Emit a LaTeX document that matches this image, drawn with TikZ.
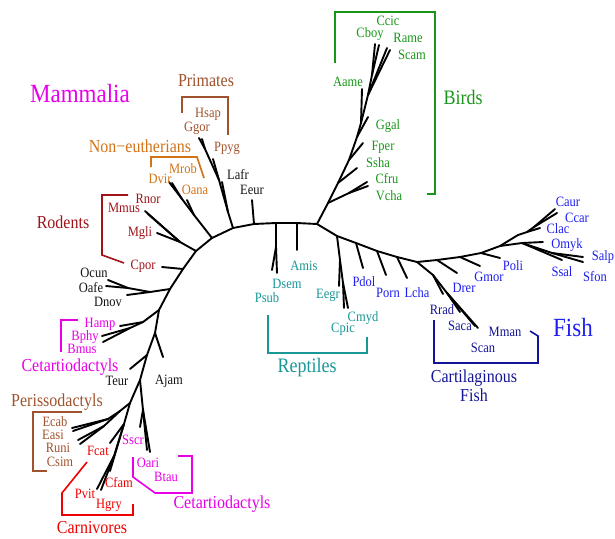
\documentclass[tikz,border=0pt]{standalone}
\usepackage{fontspec}
\setmainfont{Liberation Serif}
\usepackage{graphicx}
\definecolor{cmag}{RGB}{232,0,232}
\definecolor{csienna}{RGB}{160,82,45}
\definecolor{corange}{RGB}{210,115,25}
\definecolor{cdred}{RGB}{160,20,25}
\definecolor{cgreen}{RGB}{25,150,25}
\definecolor{cteal}{RGB}{25,150,150}
\definecolor{cblue}{RGB}{30,30,240}
\definecolor{cnavy}{RGB}{20,20,150}
\definecolor{cred}{RGB}{240,0,0}
\definecolor{cblack}{RGB}{20,20,20}
\newcommand{\tx}[1]{\scalebox{1}[1.14]{#1}}
\begin{document}
\begin{tikzpicture}[x=1pt,y=-1pt,
  tree/.style={line width=1.9pt, line cap=round, line join=round, black},
  brk/.style={line width=1.6pt, line join=miter},
  lab/.style={font=\fontsize{12.5}{14}\selectfont, inner sep=0pt},
  grp/.style={font=\fontsize{16}{18}\selectfont, inner sep=0pt},
  big/.style={font=\fontsize{23}{26}\selectfont, inner sep=0pt}]
\useasboundingbox (0,0) rectangle (615,538);
% ---------- backbone ----------
\coordinate (b1) at (130,403);
\coordinate (b2) at (140,380);
\coordinate (b3) at (147,355);
\coordinate (b4) at (155,333);
\coordinate (b5) at (159,310);
\coordinate (b6) at (170,289);
\coordinate (b7) at (183,269);
\coordinate (b8) at (196,251);
\coordinate (b9) at (212,238);
\coordinate (b10) at (233,228);
\coordinate (b11) at (254,224);
\coordinate (b12) at (276,223);
\coordinate (b13) at (297,223);
\coordinate (b14) at (317,224);
\coordinate (f1) at (337,236);
\coordinate (f2) at (356,243);
\coordinate (f3) at (377,251);
\coordinate (f4) at (397,257);
\coordinate (f5) at (417,262);
\coordinate (f6) at (437,260);
\coordinate (f7) at (460,257);
\coordinate (f8) at (481,253);
\coordinate (f9) at (500,246);
\draw[tree] (b1)--(b2)--(b3)--(b4)--(b5)--(b6)--(b7)--(b8)--(b9)--(b10)--(b11)--(b12)--(b13)--(b14)
  --(f1)--(f2)--(f3)--(f4)--(f5)--(f6)--(f7)--(f8)--(f9);
% ---------- mammals ----------
\coordinate (tTeur) at (130,369);
\coordinate (tAjam) at (163,357);
\draw[tree] (b3)--(tTeur);
\draw[tree] (b4)--(tAjam);
\coordinate (h1) at (143,322);
\coordinate (h2) at (130,328);
\coordinate (tHamp) at (120,326);
\coordinate (tBphy) at (102,336);
\coordinate (tBmus) at (103,342);
\draw[tree] (b5)--(h1)--(tHamp);
\draw[tree] (h1)--(h2)--(tBphy);
\draw[tree] (h2)--(tBmus);
\coordinate (o1) at (150,292);
\coordinate (o2) at (128,288);
\coordinate (tOcun) at (108,280);
\coordinate (tOafe) at (106,286);
\coordinate (tDnov) at (127,295);
\draw[tree] (b6)--(o1)--(o2)--(tOcun);
\draw[tree] (o2)--(tOafe);
\draw[tree] (o1)--(tDnov);
\coordinate (tCpor) at (162,267);
\draw[tree] (b7)--(tCpor);
\coordinate (r1) at (180,242);
\coordinate (tMgli) at (157,233);
\coordinate (tRnor) at (148,214);
\coordinate (tMmus) at (145,211);
\draw[tree] (b8)--(r1)--(tMgli);
\draw[tree] (r1)--(tRnor);
\draw[tree] (r1)--(tMmus);
\coordinate (n1) at (194,215);
\coordinate (n2) at (182,199);
\coordinate (tOana) at (187,200);
\coordinate (tDvir) at (169,182);
\coordinate (tMrob) at (172,183);
\draw[tree] (b9)--(n1)--(n2)--(tDvir);
\draw[tree] (n2)--(tMrob);
\draw[tree] (n1)--(tOana);
\coordinate (p1) at (228,212);
\coordinate (p2) at (219,180);
\coordinate (p3) at (205,149);
\coordinate (tLafr) at (222,182);
\coordinate (tPpyg) at (213,159);
\coordinate (tGgor) at (199,138);
\coordinate (tHsap) at (202,139);
\draw[tree] (b10)--(p1)--(p2)--(p3)--(tGgor);
\draw[tree] (p3)--(tHsap);
\draw[tree] (p1)--(tLafr);
\draw[tree] (p2)--(tPpyg);
\coordinate (tEeur) at (252,200);
\draw[tree] (b11)--(tEeur);
% lower mammals
\coordinate (s1) at (143,410);
\coordinate (tSscr) at (140,427);
\coordinate (tOari) at (147,450);
\coordinate (tBtau) at (150,452);
\draw[tree] (b2)--(s1)--(tSscr);
\draw[tree] (s1)--(tOari);
\draw[tree] (s1)--(tBtau);
\coordinate (pe0) at (120,411);
\coordinate (pe1) at (108,419);
\coordinate (pe2) at (104,426);
\coordinate (tEcab) at (72,428);
\coordinate (tEasi) at (73,431);
\coordinate (tRuni) at (78,440);
\coordinate (tCsim) at (80,444);
\draw[tree] (b1)--(pe0)--(pe1)--(tEcab);
\draw[tree] (pe1)--(tEasi);
\draw[tree] (pe0)--(pe2)--(tRuni);
\draw[tree] (pe2)--(tCsim);
\coordinate (c1) at (124,424);
\coordinate (c2) at (114,456);
\coordinate (tFcat) at (110,443);
\coordinate (tCfam) at (110,471);
\coordinate (tPvit) at (97,489);
\coordinate (tHgry) at (101,490);
\draw[tree] (b1)--(c1)--(tFcat);
\draw[tree] (c1)--(c2)--(tPvit);
\draw[tree] (c2)--(tHgry);
\draw[tree] (c1)--(tCfam);
% ---------- reptiles ----------
\coordinate (d1) at (276,247);
\coordinate (tPsub) at (272,270);
\coordinate (tDsem) at (277,273);
\coordinate (tAmis) at (297,250);
\draw[tree] (b12)--(d1)--(tPsub);
\draw[tree] (d1)--(tDsem);
\draw[tree] (b13)--(tAmis);
\coordinate (t1) at (340,260);
\coordinate (t2) at (343,283);
\coordinate (tEegr) at (339,286);
\coordinate (tCpic) at (344,308);
\coordinate (tCmyd) at (348,308);
\draw[tree] (f1)--(t1)--(tEegr);
\draw[tree] (t1)--(t2)--(tCpic);
\draw[tree] (t2)--(tCmyd);
% ---------- fish ----------
\coordinate (tPdol) at (363,268);
\coordinate (tPorn) at (386,275);
\coordinate (tLcha) at (407,278);
\draw[tree] (f2)--(tPdol);
\draw[tree] (f3)--(tPorn);
\draw[tree] (f4)--(tLcha);
\coordinate (k1) at (433,275);
\coordinate (k2) at (447,293);
\coordinate (tRrad) at (443,294);
\coordinate (tSaca) at (460,312);
\coordinate (tMman) at (478,328);
\coordinate (tScan) at (475,326);
\draw[tree] (f5)--(k1)--(tRrad);
\draw[tree] (k1)--(k2)--(tSaca);
\draw[tree] (k2)--(tMman);
\draw[tree] (k2)--(tScan);
\coordinate (tDrer) at (457,273);
\coordinate (tGmor) at (480,266);
\coordinate (tPoli) at (500,258);
\draw[tree] (f6)--(tDrer);
\draw[tree] (f7)--(tGmor);
\draw[tree] (f8)--(tPoli);
\coordinate (g1) at (518,235);
\coordinate (g2) at (527,232);
\coordinate (g3) at (534,227);
\coordinate (tClac) at (540,228);
\coordinate (tCaur) at (555,209);
\coordinate (tCcar) at (557,213);
\draw[tree] (f9)--(g1)--(g2)--(tClac);
\draw[tree] (g2)--(g3)--(tCaur);
\draw[tree] (g3)--(tCcar);
\coordinate (m1) at (522,243);
\coordinate (m3) at (552,253);
\coordinate (tOmyk) at (543,242);
\coordinate (tSsal) at (562,260);
\coordinate (tSalp) at (583,257);
\coordinate (tSfon) at (583,262);
\draw[tree] (f9)--(m1)--(tOmyk);
\draw[tree] (m1)--(tSsal);
\draw[tree] (m1)--(m3)--(tSalp);
\draw[tree] (m3)--(tSfon);
% ---------- birds ----------
\coordinate (a1) at (328,203);
\coordinate (a2) at (338,183);
\coordinate (a3) at (349,160);
\coordinate (a4) at (357,137);
\coordinate (a5) at (361,123);
\coordinate (a6) at (368,95);
\coordinate (a7) at (372,75);
\coordinate (v1) at (349,193);
\coordinate (tVcha) at (368,186);
\coordinate (tCfru) at (367,182);
\coordinate (tSsha) at (357,168);
\coordinate (tFper) at (363,143);
\coordinate (tGgal) at (368,117);
\coordinate (tAame) at (362,89);
\coordinate (tRame) at (387,48);
\coordinate (tScam) at (390,50);
\coordinate (tCboy) at (375,44);
\coordinate (tCcic) at (379,45);
\draw[tree] (b14)--(a1)--(a2)--(a3)--(a4)--(a5)--(a6)--(a7)--(tCboy);
\draw[tree] (a7)--(tCcic);
\draw[tree] (a6)--(tRame);
\draw[tree] (a6)--(tScam);
\draw[tree] (a5)--(tAame);
\draw[tree] (a4)--(tGgal);
\draw[tree] (a3)--(tFper);
\draw[tree] (a2)--(tSsha);
\draw[tree] (a1)--(v1)--(tVcha);
\draw[tree] (v1)--(tCfru);
% ---------- brackets ----------
\draw[brk, csienna] (182,113)--(182,97)--(228,97)--(228,135);
\draw[brk, corange] (151,167)--(151,157)--(197,157)--(204,178);
\draw[brk, cdred] (128,195)--(102,195)--(102,255)--(124,263);
\draw[brk, cgreen] (335,63)--(335,12)--(435,12)--(435,194)--(427,194);
\draw[brk, cteal] (268,315)--(268,353)--(367,353)--(367,337);
\draw[brk, cnavy] (434,320)--(434,363)--(538,363)--(538,336)--(530,331);
\draw[brk, cmag] (78,320)--(61,320)--(61,352);
\draw[brk, csienna] (82,412)--(33,412)--(33,471)--(47,471);
\draw[brk, cred] (87,462)--(62,493)--(62,515)--(133,515)--(133,504);
\draw[brk, cmag] (133,457)--(133,477)--(155,493)--(192,493)--(192,456)--(178,456);
% ---------- group labels ----------
\node[big, cmag] (gMammalia) at (80,94) {\tx{Mammalia}};
\node[grp, csienna] (gPrimates) at (206,81) {\tx{Primates}};
\node[grp, corange] (gNoneuth) at (140,146) {\tx{Non−eutherians}};
\node[grp, cdred] (gRodents) at (63,222) {\tx{Rodents}};
\node[grp, cgreen, font=\fontsize{18}{20}\selectfont] (gBirds) at (463,97) {\tx{Birds}};
\node[grp, cteal, font=\fontsize{18}{20}\selectfont] (gReptiles) at (307,368) {\tx{Reptiles}};
\node[big, cblue] (gFish) at (573,328) {\tx{Fish}};
\node[grp, cnavy, align=center] (gCart) at (474,386) {\tx{Cartilaginous}\\[1pt]\tx{Fish}};
\node[grp, cmag] (gCetA) at (70,367) {\tx{Cetartiodactyls}};
\node[grp, csienna] (gPeri) at (57,402) {\tx{Perissodactyls}};
\node[grp, cred] (gCarn) at (92,528) {\tx{Carnivores}};
\node[grp, cmag] (gCetB) at (222,504) {\tx{Cetartiodactyls}};
% ---------- leaf labels ----------
\node[lab, csienna] (lHsap) at (208,114) {\tx{Hsap}};
\node[lab, csienna] (lGgor) at (197,128) {\tx{Ggor}};
\node[lab, csienna] (lPpyg) at (227,148) {\tx{Ppyg}};
\node[lab, corange] (lMrob) at (183,169) {\tx{Mrob}};
\node[lab, corange] (lDvir) at (160,179) {\tx{Dvir}};
\node[lab, corange] (lOana) at (195,190) {\tx{Oana}};
\node[lab, cblack] (lLafr) at (238,175) {\tx{Lafr}};
\node[lab, cblack] (lEeur) at (252,190) {\tx{Eeur}};
\node[lab, cdred] (lRnor) at (148,199) {\tx{Rnor}};
\node[lab, cdred] (lMmus) at (124,208) {\tx{Mmus}};
\node[lab, cdred] (lMgli) at (140,233) {\tx{Mgli}};
\node[lab, cdred] (lCpor) at (143,266) {\tx{Cpor}};
\node[lab, cblack] (lOcun) at (94,273) {\tx{Ocun}};
\node[lab, cblack] (lOafe) at (91,288) {\tx{Oafe}};
\node[lab, cblack] (lDnov) at (108,302) {\tx{Dnov}};
\node[lab, cmag] (lHamp) at (100,324) {\tx{Hamp}};
\node[lab, cmag] (lBphy) at (85,337) {\tx{Bphy}};
\node[lab, cmag] (lBmus) at (82,349) {\tx{Bmus}};
\node[lab, cblack] (lTeur) at (117,381) {\tx{Teur}};
\node[lab, cblack] (lAjam) at (169,381) {\tx{Ajam}};
\node[lab, csienna] (lEcab) at (55,422) {\tx{Ecab}};
\node[lab, csienna] (lEasi) at (53,435) {\tx{Easi}};
\node[lab, csienna] (lRuni) at (58,448) {\tx{Runi}};
\node[lab, csienna] (lCsim) at (60,462) {\tx{Csim}};
\node[lab, cred] (lFcat) at (98,451) {\tx{Fcat}};
\node[lab, cmag] (lSscr) at (133,440) {\tx{Sscr}};
\node[lab, cmag] (lOari) at (148,463) {\tx{Oari}};
\node[lab, cmag] (lBtau) at (166,477) {\tx{Btau}};
\node[lab, cred] (lCfam) at (119,483) {\tx{Cfam}};
\node[lab, cred] (lPvit) at (85,494) {\tx{Pvit}};
\node[lab, cred] (lHgry) at (109,505) {\tx{Hgry}};
\node[lab, cgreen] (lCcic) at (388,21) {\tx{Ccic}};
\node[lab, cgreen] (lCboy) at (370,34) {\tx{Cboy}};
\node[lab, cgreen] (lRame) at (408,38) {\tx{Rame}};
\node[lab, cgreen] (lScam) at (412,55) {\tx{Scam}};
\node[lab, cgreen] (lAame) at (348,82) {\tx{Aame}};
\node[lab, cgreen] (lGgal) at (388,126) {\tx{Ggal}};
\node[lab, cgreen] (lFper) at (383,147) {\tx{Fper}};
\node[lab, cgreen] (lSsha) at (378,163) {\tx{Ssha}};
\node[lab, cgreen] (lCfru) at (387,179) {\tx{Cfru}};
\node[lab, cgreen] (lVcha) at (389,196) {\tx{Vcha}};
\node[lab, cteal] (lAmis) at (304,266) {\tx{Amis}};
\node[lab, cteal] (lDsem) at (287,284) {\tx{Dsem}};
\node[lab, cteal] (lPsub) at (267,298) {\tx{Psub}};
\node[lab, cteal] (lEegr) at (328,295) {\tx{Eegr}};
\node[lab, cteal] (lCmyd) at (363,318) {\tx{Cmyd}};
\node[lab, cteal] (lCpic) at (343,329) {\tx{Cpic}};
\node[lab, cblue] (lPdol) at (364,282) {\tx{Pdol}};
\node[lab, cblue] (lPorn) at (388,293) {\tx{Porn}};
\node[lab, cblue] (lLcha) at (417,293) {\tx{Lcha}};
\node[lab, cblue] (lCaur) at (568,202) {\tx{Caur}};
\node[lab, cblue] (lCcar) at (577,218) {\tx{Ccar}};
\node[lab, cblue] (lClac) at (558,229) {\tx{Clac}};
\node[lab, cblue] (lOmyk) at (567,245) {\tx{Omyk}};
\node[lab, cblue] (lSalp) at (603,257) {\tx{Salp}};
\node[lab, cblue] (lSsal) at (562,272) {\tx{Ssal}};
\node[lab, cblue] (lSfon) at (595,277) {\tx{Sfon}};
\node[lab, cblue] (lPoli) at (513,266) {\tx{Poli}};
\node[lab, cblue] (lGmor) at (489,277) {\tx{Gmor}};
\node[lab, cblue] (lDrer) at (464,288) {\tx{Drer}};
\node[lab, cnavy] (lRrad) at (442,310) {\tx{Rrad}};
\node[lab, cnavy] (lSaca) at (460,326) {\tx{Saca}};
\node[lab, cnavy] (lMman) at (505,332) {\tx{Mman}};
\node[lab, cnavy] (lScan) at (483,348) {\tx{Scan}};
\end{tikzpicture}
\end{document}
